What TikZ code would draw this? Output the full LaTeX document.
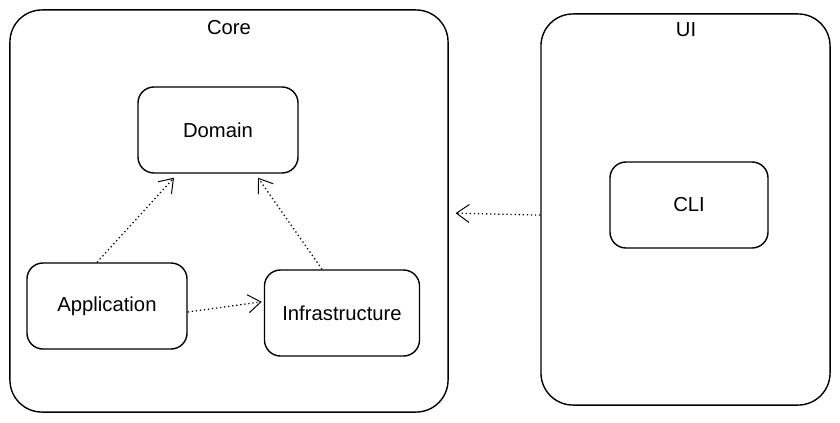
\documentclass[tikz,border=0pt]{standalone}
\usepackage{fontspec}
\setmainfont{Liberation Sans}
\usetikzlibrary{arrows.meta, calc}

\tikzset{
  layer/.style={draw, line width=1pt, rounded corners=0.8cm, fill=white},
  comp/.style={draw, line width=1pt, rounded corners=0.4cm, minimum width=4cm, minimum height=2.15cm, font=\Large},
  dep/.style={line width=0.9pt, dotted, -{Straight Barb[length=0.32cm, width=0.45cm, line width=0.7pt]}}
}

\begin{document}
\begin{tikzpicture}[x=0.025cm, y=-0.025cm]

  \useasboundingbox (0, 0) rectangle (840, 422);

  % layers
  \node[layer, minimum width=10.95cm, minimum height=10.05cm] (core) at (229, 211) {};
  \node[font=\Large] (coretitle) at (229, 28) {Core};
  \node[layer, minimum width=7.225cm, minimum height=9.775cm] (ui) at (685.5, 209.5) {};
  \node[font=\Large] (uititle) at (686, 30) {UI};

  % components
  \node[comp] (dom) at (218, 130) {Domain};
  \node[comp] (app) at (107, 306) {Application};
  \node[comp, minimum width=3.875cm] (infra) at (342, 313) {Infrastructure};
  \node[comp, minimum width=3.95cm] (cli) at (689, 205) {CLI};

  \draw[dep] ([xshift=-0.25cm]app.north) -- ([xshift=-1.1cm, yshift=-0.1cm]dom.south);
  \draw[dep] ([xshift=-0.5cm]infra.north) -- ([xshift=1cm, yshift=-0.1cm]dom.south);
  \draw[dep] ([yshift=-0.15cm]app.east) -- ([xshift=-0.05cm, yshift=0.28cm]infra.west);
  \draw[dep, shorten >=0.17cm] ([yshift=-0.14cm]ui.west) -- ([yshift=-0.05cm]core.east);

\end{tikzpicture}
\end{document}
